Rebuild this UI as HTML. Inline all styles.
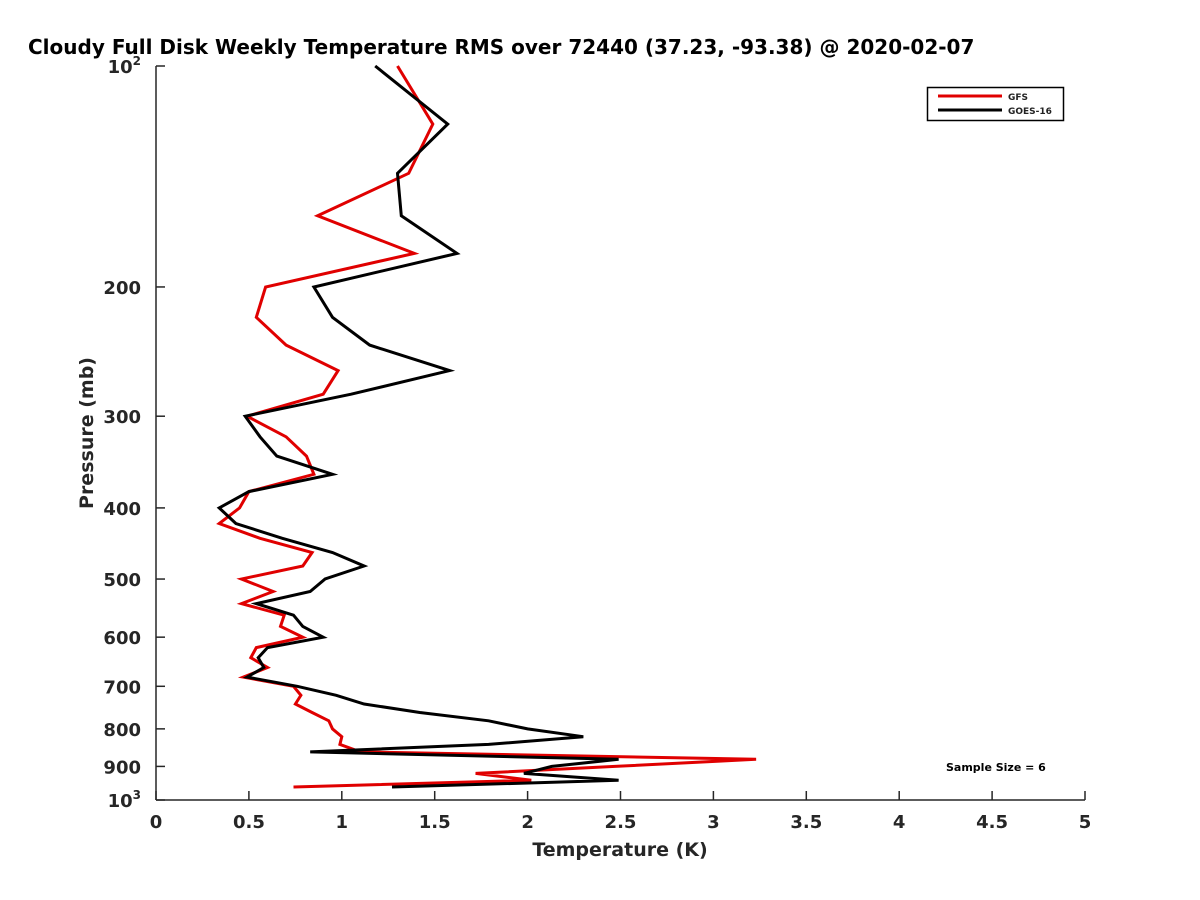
<!DOCTYPE html>
<html><head><meta charset="utf-8"><style>
body{margin:0;background:#fff;overflow:hidden;}
svg{display:block;font-family:"DejaVu Sans","Liberation Sans",sans-serif;}
</style></head><body>
<svg id="chart" width="1200" height="900" xmlns="http://www.w3.org/2000/svg">
<rect width="1200" height="900" fill="#fff"/>
<text x="28" y="54" font-size="20" font-weight="bold" fill="#000">Cloudy Full Disk Weekly Temperature RMS over 72440 (37.23, -93.38) @ 2020-02-07</text>
<g id="axes"></g>
<g id="series"></g>
<g>
<rect x="927.5" y="87.5" width="136" height="33" fill="#fff" stroke="#000" stroke-width="1.5"/>
<line x1="938" y1="96" x2="1002" y2="96" stroke="#e00000" stroke-width="3"/>
<text x="1008" y="100" font-size="9" font-weight="bold" fill="#222">GFS</text>
<line x1="938" y1="110" x2="1002" y2="110" stroke="#000" stroke-width="3"/>
<text x="1008" y="114" font-size="9" font-weight="bold" fill="#222">GOES-16</text>
</g>
<text x="946" y="771" font-size="11" font-weight="bold" fill="#000">Sample Size = 6</text>
<text x="620" y="856" font-size="19" font-weight="bold" fill="#262626" text-anchor="middle">Temperature (K)</text>
<text transform="translate(93,433) rotate(-90)" font-size="19" font-weight="bold" fill="#262626" text-anchor="middle">Pressure (mb)</text>
</svg>
<script>
const pressures = [100,120,140,160,180,200,220,240,260,280,300,320,340,360,380,400,420,440,460,480,500,520,540,560,580,600,620,640,660,680,700,720,740,760,780,800,820,840,860,880,900,920,940,960];
const gfsRms = [1.30,1.49,1.36,0.87,1.39,0.59,0.54,0.70,0.98,0.90,0.49,0.70,0.81,0.85,0.50,0.45,0.34,0.56,0.84,0.79,0.46,0.63,0.46,0.69,0.67,0.79,0.54,0.51,0.60,0.47,0.74,0.78,0.75,0.84,0.93,0.95,1.00,0.99,1.10,3.23,2.47,1.72,2.02,0.74];
const goesRms = [1.18,1.57,1.30,1.32,1.62,0.85,0.95,1.15,1.58,1.05,0.48,0.56,0.65,0.95,0.50,0.34,0.43,0.68,0.95,1.12,0.91,0.83,0.54,0.74,0.79,0.90,0.60,0.55,0.58,0.49,0.76,0.97,1.12,1.42,1.79,2.00,2.30,1.79,0.83,2.49,2.13,1.98,2.49,1.27];
const xTicks = [0,0.5,1,1.5,2,2.5,3,3.5,4,4.5,5];
const yTicks = [200,300,400,500,600,700,800,900];

const NS = "http://www.w3.org/2000/svg";
const X0 = 156, X1 = 1085, Y0 = 66, Y1 = 800;
function xScale(t){ return X0 + (t/5)*(X1-X0); }
function yScale(p){ return Y0 + (Math.log10(p)-2)*(Y1-Y0); }
function mk(tag, attrs){ const e=document.createElementNS(NS,tag); for(const k in attrs) e.setAttribute(k,attrs[k]); return e; }

const axes = document.getElementById('axes');
const xa = mk('line',{x1:X0,y1:Y1,x2:X1,y2:Y1,stroke:'#262626','stroke-width':1.5});


axes.appendChild(xa);
const ya = mk('line',{x1:X0,y1:Y0,x2:X0,y2:Y1,stroke:'#262626','stroke-width':1.5});


axes.appendChild(ya);

xTicks.forEach(t=>{
  const x=xScale(t);
  const tk=mk('line',{x1:x,y1:Y1,x2:x,y2:Y1-9,stroke:'#262626','stroke-width':1.5});
  
  
  axes.appendChild(tk);
  const lb=mk('text',{x:x,y:Y1+28,'font-size':18,'font-weight':'bold',fill:'#262626','text-anchor':'middle'});
  lb.textContent=String(t);
  
  
  axes.appendChild(lb);
});
const allY=[100].concat(yTicks).concat([1000]);
allY.forEach(p=>{
  const y=yScale(p);
  const tk=mk('line',{x1:X0,y1:y,x2:X0+9,y2:y,stroke:'#262626','stroke-width':1.5});
  
  
  axes.appendChild(tk);
  const lb=mk('text',{x:X0-15,y:y+7,'font-size':18,'font-weight':'bold',fill:'#262626','text-anchor':'end'});
  if(p===100||p===1000){
    lb.textContent='10';
    const sup=mk('tspan',{dy:-8,'font-size':12});
    sup.textContent=p===100?'2':'3';
    lb.appendChild(sup);
  } else lb.textContent=String(p);
  
  
  axes.appendChild(lb);
});

const series=document.getElementById('series');
function drawLine(vals,color,name){
  const pts=vals.map((v,i)=>xScale(v).toFixed(1)+','+yScale(pressures[i]).toFixed(1)).join(' ');
  const pl=mk('polyline',{points:pts,fill:'none',stroke:color,'stroke-width':3,'stroke-linejoin':'miter'});
  
  
  series.appendChild(pl);
}
drawLine(gfsRms,'#e00000','gfs-line');
drawLine(goesRms,'#000000','goes-16-line');
</script>
</body></html>
